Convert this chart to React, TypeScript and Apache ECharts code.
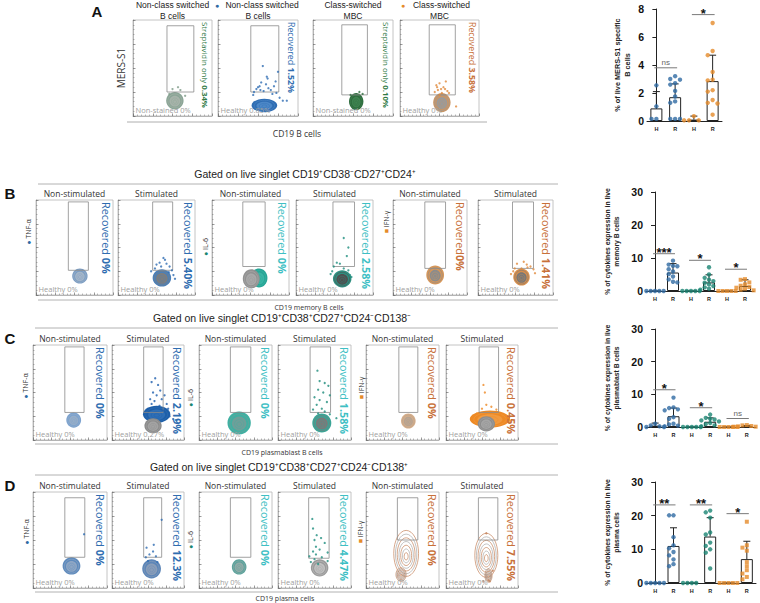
import React, { useEffect, useRef } from "react";
import * as echarts from "echarts";

// ================= BAR CHART DATA =================
const barCatsA = ["H", "R", "H", "R"];
const barMeansA = [0.9, 1.7, 0.1, 2.85];
const barSdTopA = [2.1, 2.65, 0.35, 4.7];
const barDotsA = [
  [2.55, 1.05, 0.15, 0.15],
  [3.2, 3.0, 2.95, 2.7, 2.6, 2.15, 1.75, 1.4, 1.3, 0.15, 0.15, 0.15],
  [0.35, 0.05, 0.05, 0.05],
  [7.0, 5.0, 4.7, 3.5, 2.95, 2.9, 2.2, 2.1, 1.5, 1.3, 1.25, 0.45],
];
const barSigA = [[0, 1, 3.8], [2, 3, 7.6]];
const barSigTextA = ["ns", "*"];
const yTicksA = [0, 8, 2];

const barCats = ["H", "R", "H", "R", "H", "R"];
const yTicksBCD = [0, 30, 10];

const barMeansB = [0, 5.6, 0, 2.6, 0, 1.5];
const barSdTopB = [0, 8.3, 0, 4.9, 0, 3.4];
const barDotsB = [
  [0, 0, 0, 0, 0],
  [9.2, 8.0, 7.6, 7.5, 6.6, 5.9, 5.1, 4.4, 3.5, 2.8, 2.6],
  [0, 0, 0, 0, 0],
  [7.2, 5.0, 4.0, 3.4, 3.0, 2.5, 2.0, 1.5, 1.1, 0.7, 0.4],
  [0, 0, 0, 0, 0],
  [3.6, 3.4, 2.6, 2.0, 1.6, 1.2, 1.0, 0.7, 0.4, 0.2],
];
const barSigB = [[0, 1, 11.3], [2, 3, 9.3], [4, 5, 6.6]];
const barSigTextB = ["***", "*", "*"];

const barMeansC = [0.4, 3.3, 0, 1.6, 0, 0.2];
const barSdTopC = [1.2, 5.8, 0, 2.8, 0, 0.45];
const barDotsC = [
  [1.0, 0.5, 0.2, 0, 0],
  [9.0, 6.0, 5.8, 5.4, 5.1, 3.0, 2.5, 1.0, 0.8, 0.4, 0.2],
  [0, 0, 0, 0, 0],
  [3.8, 2.8, 2.5, 2.3, 2.0, 1.7, 1.2, 0.9, 0.5, 0.2],
  [0, 0, 0, 0, 0],
  [0.6, 0.5, 0.3, 0.2, 0.1, 0.1, 0, 0, 0],
];
const barSigC = [[0, 1, 11.4], [2, 3, 5.9], [4, 5, 2.6]];
const barSigTextC = ["*", "*", "ns"];

const barMeansD = [0, 11.0, 0, 13.8, 0, 7.1];
const barSdTopD = [0, 16.4, 0, 19.4, 0, 12.4];
const barDotsD = [
  [0, 0, 0, 0, 0],
  [20.1, 20.1, 13.6, 11.2, 10.3, 9.2, 8.2, 7.0, 5.6, 5.0],
  [0, 0, 0, 0],
  [21.5, 21.0, 19.4, 15.0, 14.4, 12.0, 11.0, 10.0, 9.0, 4.3],
  [0, 0, 0, 0, 0],
  [18.2, 11.2, 10.5, 9.6, 6.2, 5.0, 3.8, 2.8, 1.8, 1.1],
];
const barSigD = [[0, 1, 23.2], [2, 3, 23.2], [4, 5, 20.6]];
const barSigTextD = ["**", "**", "*"];

// ================= FLOW PLOT DATA (plot units 0-100) =================
// gate: [x1, x2, y1, y2]; blob: [cx, cy, rx, ry]; dots: [x, y]
const flowGatesA = [[43, 77, 25, 94], [41, 76, 25, 94], [36, 68, 22, 95], [37, 70, 22, 95]];
const flowBlobsA = [[[53, 16, 11, 9]], [[58, 11, 16, 7]], [[54, 15, 9, 9]], [[53, 14, 11, 10]]];
const flowDotsA = [
  [[60, 27], [46, 23], [66, 21], [57, 30], [50, 28]],
  [[56, 52], [61, 41], [62, 39], [54, 35], [75, 46], [50, 30], [48, 28], [53, 27], [57, 26], [63, 29], [66, 27], [70, 31], [45, 25], [68, 23], [81, 16], [86, 16], [77, 19], [60, 33], [52, 31], [72, 36], [44, 22], [73, 24]],
  [[62, 23], [47, 22], [58, 25]],
  [[50, 34], [46, 32], [55, 30], [52, 28], [57, 28], [48, 27], [44, 25], [60, 26], [53, 24], [50, 22], [58, 36], [62, 24], [71, 10], [47, 30]],
];
const titlesA = [["Non-class switched", "B cells"], ["Non-class switched", "B cells"], ["Class-switched", "MBC"], ["Class-switched", "MBC"]];
const rightA = [["Streptavidin only ", "0.34%"], ["Recovered ", "1.52%"], ["Streptavidin only ", "0.10%"], ["Recovered ", "3.58%"]];
const bottomA = ["Non-stained 0%", "Healthy 0.85%", "Non-stained 0%", "Healthy 0%"];

const flowGatesB = [[42, 68, 26, 98], [45, 71, 26, 98], [40, 69, 30, 98], [48, 76, 30, 98], [43, 71, 28, 98], [46, 74, 28, 98]];
const flowBlobsB = [
  [[57, 20, 10, 8]],
  [[57, 18, 12, 9]],
  [[61, 18, 11, 10], [51, 17, 11, 10]],
  [[60, 17, 12, 9]],
  [[57, 21, 12, 10]],
  [[58, 19, 11, 9]],
];
const flowDotsB = [
  [],
  [[59, 39], [54, 34], [50, 32], [63, 33], [67, 30], [48, 28], [70, 26], [72, 21], [74, 17], [43, 25], [61, 37], [56, 30], [66, 24]],
  [],
  [[62, 60], [68, 50], [66, 41], [53, 34], [57, 33], [49, 30], [62, 28], [68, 26], [70, 21], [47, 25], [72, 19], [45, 22]],
  [],
  [[52, 33], [61, 35], [65, 32], [70, 30], [58, 28], [49, 28], [74, 27], [47, 25], [76, 23], [44, 22], [66, 29]],
];
const rightPctB = ["0%", "5.40%", "0%", "2.58%", "0%", "1.41%"];
const bottomB = ["Healthy 0%", "Healthy 0%", "Healthy 0%", "Healthy 0%", "Healthy 0%", "Healthy 0%"];

const flowGatesC = [[43, 69, 29, 98], [44, 71, 29, 98], [43, 71, 29, 98], [44, 72, 29, 98], [45, 71, 29, 98], [46, 73, 29, 98]];
const flowBlobsC = [
  [[55, 21, 10, 8]],
  [[62, 27, 19, 9], [57, 15, 12, 8]],
  [[55, 18, 16, 12]],
  [[60, 18, 13, 10]],
  [[58, 20, 10, 8]],
  [[61, 22, 28, 9], [56, 17, 12, 8]],
];
const flowDotsC = [
  [],
  [[60, 65], [55, 61], [64, 58], [67, 52], [57, 50], [62, 47], [69, 43], [73, 47], [53, 43], [55, 38], [76, 38], [78, 33], [50, 33], [80, 25], [85, 22], [89, 21], [48, 27], [66, 36], [59, 41], [71, 31]],
  [],
  [[54, 73], [57, 62], [64, 60], [69, 57], [55, 53], [62, 50], [71, 47], [50, 45], [57, 42], [67, 40], [53, 37], [60, 33], [48, 32], [64, 30], [55, 28], [71, 27], [80, 23]],
  [],
  [[52, 58], [54, 50], [56, 37], [50, 33], [63, 35], [70, 32], [75, 27], [84, 23], [43, 28], [89, 20]],
];
const rightPctC = ["0%", "2.19%", "0%", "1.58%", "0%", "0.45%"];
const bottomC = ["Healthy 0%", "Healthy 0.27%", "Healthy 0%", "Healthy 0%", "Healthy 0%", "Healthy 0%"];

const flowGatesD = [[43, 70, 32, 94], [44, 69, 32, 94], [43, 71, 32, 94], [42, 70, 31, 94], [43, 71, 50, 94], [45, 72, 50, 94]];
const flowBlobsD = [
  [[52, 23, 12, 9]],
  [[55, 20, 13, 10]],
  [[55, 22, 10, 8]],
  [[57, 21, 12, 9]],
  [[55, 36, 17, 24], [48, 14, 7, 7]],
  [[56, 34, 16, 23], [59, 13, 5, 7]],
];
const flowDotsD = [
  [[69, 56]],
  [[69, 71], [48, 42], [57, 38], [52, 35], [61, 33], [47, 32], [58, 45], [63, 27], [50, 28]],
  [],
  [[47, 72], [48, 62], [53, 55], [50, 50], [59, 52], [64, 47], [52, 43], [57, 40], [48, 38], [68, 37], [52, 35], [43, 33], [60, 32], [50, 30], [68, 28], [45, 27], [55, 25]],
  [],
  [[56, 57], [59, 8], [61, 7], [52, 7], [65, 18]],
];
const rightPctD = ["0%", "12.3%", "0%", "4.47%", "0%", "7.55%"];
const bottomD = ["Healthy 0%", "Healthy 0%", "Healthy 0%", "Healthy 0%", "Healthy 0%", "Healthy 0%"];

const stimTitles = ["Non-stimulated", "Stimulated", "Non-stimulated", "Stimulated", "Non-stimulated", "Stimulated"];

// ================= STYLES =================
const FLOW_FONT = "'Open Sans', 'Noto Sans', sans-serif";
const ARIAL = "'Liberation Sans', Arial, sans-serif";
const BLUE = "#2f6db0";
const CYAN = "#3fbfc4";
const ORANGE_T = "#c8713a";
const GREEN = "#2f7a45";
const DOT_BLUE = "#2f6aa3";
const DOT_TEAL = "#1a8573";
const DOT_ORANGE = "#e58b2a";

const blobStylesA = [[["#8aa596", "#a7b3aa"]], [["#2f6db3", "#4d88c8"]], [["#2e6b3d", "#3e8350"]], [["#c99565", "#9a9a9a"]]];
const blobStylesB = [
  [["#7a9cc3", "#a5b6c8"]],
  [["#4a7fb8", "#7d7d7d"]],
  [["#27a596", "#39b5a5"], ["#929292", "#a9a9a9"]],
  [["#2e8f80", "#4f4f4f"]],
  [["#d7975a", "#8c8c8c"]],
  [["#d98f4b", "#777777"]],
];
const blobStylesC = [
  [["#7ba2cf", "#97aec8"]],
  [["#1e5fa8", "#2f6eb5"], ["#8b8b8b", "#a3a3a3"]],
  [["#3fb0a2", "#6f9f99"]],
  [["#3aa596", "#7a7a7a"]],
  [["#d6ad88", "#b5a392"]],
  [["#ee8a25", "#f09a40"], ["#8d8d8d", "#a5a5a5"]],
];
const blobStylesD = [
  [["#5f8bbd", "#8ea6c4"]],
  [["#5d86b8", "#8a9db8"]],
  [["#5aa39c", "#93aba8"]],
  [["#9a9a9a", "#c0c0c0"]],
  [["#c4825a", "#a8a8a8"], ["#c4825a", "#a8a8a8"]],
  [["#c4825a", "#a8a8a8"], ["#c4825a", "#a8a8a8"]],
];
const dotColorsA = ["#7f9c8a", "#2f6db3", "#2e6b3d", "#e08a3c"];
const dotColorsB = ["#2f6db3", "#2f6db3", "#1f9e8f", "#1f8f80", "#d98f4b", "#e08a3c"];
const dotColorsC = ["#2f6db3", "#1f5fae", "#1f9e8f", "#1e8c7c", "#d98f4b", "#ee8a25"];
const dotColorsD = ["#2f6db3", "#2f6db3", "#1f9e8f", "#1f8f80", "#c4825a", "#c4825a"];

function swarm(vals: number[], ymax: number, step: number) {
  const placed: number[][] = [];
  const thr = ymax * 0.04;
  const cands = [0, -1, 1, -2, 2, -3, 3];
  vals.forEach((v) => {
    for (const c of cands) {
      const off = c * step;
      if (!placed.some((p) => Math.abs(p[1] - v) < thr && Math.abs(p[0] - off) < step * 0.9)) {
        placed.push([off, v]);
        break;
      }
    }
  });
  return placed;
}

function buildOption() {
  const option: any = {
    animation: false,
    backgroundColor: "#ffffff",
    grid: [],
    xAxis: [],
    yAxis: [],
    series: [],
    graphic: { elements: [] },
  };
  const G = option.graphic.elements;

  const txt = (x: number, y: number, text: string, o: any = {}) => {
    const st: any = {
      text,
      fontSize: o.fs || 8,
      fontFamily: o.ff || FLOW_FONT,
      fontWeight: o.fw || "normal",
      fill: o.c || "#222",
      align: o.al || "center",
      verticalAlign: o.va || "middle",
      textAlign: o.al || "center",
      textVerticalAlign: o.va || "middle",
    };
    if (o.rich) st.rich = o.rich;
    G.push({ type: "text", x, y, rotation: o.rot || 0, style: st, z: 20, silent: true });
  };
  const hline = (x1: number, x2: number, y: number, c = "#9a9a9a") => {
    G.push({ type: "line", shape: { x1, y1: y, x2, y2: y }, style: { stroke: c, lineWidth: 0.8 }, silent: true, z: 5 });
  };

  const flowAxis = (g: number) => ({
    type: "value",
    gridIndex: g,
    min: 0,
    max: 100,
    interval: 25,
    axisLine: { show: true, onZero: false, lineStyle: { color: "#a8a8a8", width: 0.8 } },
    axisTick: { show: true, inside: true, length: 2.5, lineStyle: { color: "#555", width: 0.6 } },
    minorTick: { show: true, splitNumber: 5, length: 1.5, lineStyle: { color: "#777", width: 0.5 } },
    axisLabel: { show: false },
    splitLine: { show: false },
  });

  const addFlow = (rect: number[], gate: number[], blobs: number[][], styles: string[][], kind: string, dots: number[][], dotColor: string) => {
    const g = option.grid.length;
    option.grid.push({ left: rect[0], top: rect[1], width: rect[2], height: rect[3], show: true, borderColor: "#b5b5b5", borderWidth: 0.8 });
    option.xAxis.push(flowAxis(g));
    option.yAxis.push(flowAxis(g));
    const xi = option.xAxis.length - 1;
    const yi = option.yAxis.length - 1;
    option.series.push({
      type: "custom",
      xAxisIndex: xi,
      yAxisIndex: yi,
      silent: true,
      z: 2,
      data: blobs,
      renderItem: (params: any, api: any) => {
        const c = api.coord([api.value(0), api.value(1)]);
        const s = api.size([api.value(2), api.value(3)]);
        const st = styles[params.dataIndex];
        const rx = s[0];
        const ry = s[1];
        const el = (k: number, style: any) => ({ type: "ellipse", shape: { cx: c[0], cy: c[1] + (1 - k) * ry * 0.15, rx: rx * k, ry: ry * k }, style });
        const children: any[] = [];
        if (kind === "contour") {
          [1, 0.86, 0.72, 0.58, 0.44, 0.3, 0.16].forEach((k, j) => {
            children.push(el(k, { fill: "none", stroke: j % 2 ? st[1] : st[0], lineWidth: 0.7 }));
          });
        } else {
          children.push(el(1, { fill: st[0] }));
          children.push(el(0.8, { fill: "none", stroke: st[1], lineWidth: 0.6 }));
          children.push(el(0.62, { fill: st[1] }));
          children.push(el(0.4, { fill: "none", stroke: st[0], lineWidth: 0.5, opacity: 0.7 }));
          children.push(el(0.2, { fill: "none", stroke: st[0], lineWidth: 0.5, opacity: 0.7 }));
        }
        return { type: "group", children };
      },
    });
    option.series.push({
      type: "custom",
      xAxisIndex: xi,
      yAxisIndex: yi,
      silent: true,
      z: 3,
      data: [gate],
      renderItem: (params: any, api: any) => {
        const a = api.coord([api.value(0), api.value(3)]);
        const b = api.coord([api.value(1), api.value(2)]);
        return { type: "rect", shape: { x: a[0], y: a[1], width: b[0] - a[0], height: b[1] - a[1] }, style: { fill: "none", stroke: "#8a8a8a", lineWidth: 0.8 } };
      },
    });
    if (dots.length) {
      option.series.push({
        type: "scatter",
        xAxisIndex: xi,
        yAxisIndex: yi,
        silent: true,
        z: 4,
        symbolSize: 2.3,
        itemStyle: { color: dotColor },
        data: dots,
      });
    }
  };

  const addBar = (rect: number[], cats: string[], means: number[], tops: number[], dots: number[][], colors: string[], symbols: string[], sigs: number[][], sigTexts: string[], ticks: number[], yName: string, nameGap: number, step: number, nameFs: number) => {
    const g = option.grid.length;
    const n = cats.length;
    option.grid.push({ left: rect[0], top: rect[1], width: rect[2], height: rect[3] });
    option.xAxis.push({
      type: "category",
      gridIndex: g,
      data: cats,
      axisLine: { lineStyle: { color: "#222", width: 1 } },
      axisTick: { show: false },
      axisLabel: { fontSize: 5.5, fontWeight: "bold", color: "#222", margin: 5, fontFamily: ARIAL },
    });
    const xc = option.xAxis.length - 1;
    option.xAxis.push({ type: "value", gridIndex: g, min: -0.5, max: n - 0.5, show: false });
    const xv = option.xAxis.length - 1;
    option.yAxis.push({
      type: "value",
      gridIndex: g,
      min: ticks[0],
      max: ticks[1],
      interval: ticks[2],
      axisLine: { show: true, lineStyle: { color: "#222", width: 1 } },
      axisTick: { show: true, length: 4, lineStyle: { color: "#222", width: 1 } },
      axisLabel: { fontSize: 10.5, fontWeight: "bold", color: "#111", margin: 3, fontFamily: ARIAL },
      splitLine: { show: false },
      name: yName,
      nameLocation: "middle",
      nameGap,
      nameRotate: 90,
      nameTextStyle: { fontSize: nameFs, fontWeight: "bold", color: "#222", lineHeight: nameFs + 2.5, fontFamily: ARIAL },
    });
    const yi = option.yAxis.length - 1;
    option.series.push({
      type: "bar",
      xAxisIndex: xc,
      yAxisIndex: yi,
      data: means,
      barWidth: 12,
      silent: true,
      z: 2,
      itemStyle: { color: "#ffffff", borderColor: "#222", borderWidth: 1 },
    });
    option.series.push({
      type: "custom",
      xAxisIndex: xv,
      yAxisIndex: yi,
      silent: true,
      z: 3,
      data: means.map((m, i) => [i, m, tops[i]]),
      renderItem: (params: any, api: any) => {
        const x = api.value(0);
        const m = api.value(1);
        const t = api.value(2);
        if (!(t > m)) return { type: "group", children: [] };
        const p0 = api.coord([x, m]);
        const p1 = api.coord([x, t]);
        return {
          type: "group",
          children: [
            { type: "line", shape: { x1: p0[0], y1: p0[1], x2: p1[0], y2: p1[1] }, style: { stroke: "#222", lineWidth: 1 } },
            { type: "line", shape: { x1: p1[0] - 3.5, y1: p1[1], x2: p1[0] + 3.5, y2: p1[1] }, style: { stroke: "#222", lineWidth: 1 } },
          ],
        };
      },
    });
    dots.forEach((vals, i) => {
      const pts = swarm(vals, ticks[1], step).map((p) => [i + p[0], p[1]]);
      option.series.push({
        type: "scatter",
        xAxisIndex: xv,
        yAxisIndex: yi,
        silent: true,
        z: 4,
        symbol: symbols[i],
        symbolSize: symbols[i] === "rect" ? 4 : 4.4,
        itemStyle: { color: colors[i] },
        data: pts,
      });
    });
    option.series.push({
      type: "custom",
      xAxisIndex: xv,
      yAxisIndex: yi,
      silent: true,
      z: 5,
      data: sigs,
      renderItem: (params: any, api: any) => {
        const a = api.coord([api.value(0), api.value(2)]);
        const b = api.coord([api.value(1), api.value(2)]);
        const t = sigTexts[params.dataIndex];
        const star = t !== "ns";
        return {
          type: "group",
          children: [
            { type: "line", shape: { x1: a[0] - 2, y1: a[1], x2: b[0] + 2, y2: b[1] }, style: { stroke: "#7a7a7a", lineWidth: 1 } },
            {
              type: "text",
              x: (a[0] + b[0]) / 2,
              y: a[1] + (star ? 5 : -1),
              style: {
                text: t,
                fill: star ? "#111" : "#666",
                fontSize: star ? 13 : 8,
                fontWeight: star ? "bold" : "normal",
                fontFamily: ARIAL,
                align: "center",
                verticalAlign: "bottom",
                textAlign: "center",
                textVerticalAlign: "bottom",
              },
            },
          ],
        };
      },
    });
  };

  const rightLabel = (rect: number[], a: string, b: string, color: string, fs: number) => {
    txt(rect[0] + rect[2] - 7, rect[1] + 2, `{a|${a}}{b|${b}}`, {
      rot: -Math.PI / 2,
      al: "left",
      va: "middle",
      fs,
      c: color,
      rich: {
        a: { fontSize: fs, fontFamily: FLOW_FONT, fill: color, color },
        b: { fontSize: fs, fontFamily: FLOW_FONT, fontWeight: "bold", fill: color, color },
      },
    });
  };
  const bottomLabel = (rect: number[], t: string) => {
    txt(rect[0] + 2.5, rect[1] + rect[3] - 6, t, { al: "left", fs: 7.5, c: "#a0a0a0" });
  };
  const markerLabel = (x: number, y: number, mark: string, mc: string, t: string) => {
    txt(x, y, `{m|${mark}} {t|${t}}`, {
      rot: Math.PI / 2,
      fs: 7,
      rich: {
        m: { fontSize: 7, fill: mc, color: mc, fontFamily: FLOW_FONT },
        t: { fontSize: 7, fill: "#333", color: "#333", fontFamily: FLOW_FONT },
      },
    });
  };

  // ---------------- Panel A ----------------
  const rectsA = [[133, 20, 79, 96], [218, 20, 80, 96], [313, 20, 80, 96], [400, 20, 79, 96]];
  rectsA.forEach((r, i) => {
    addFlow(r, flowGatesA[i], flowBlobsA[i], blobStylesA[i], "dense", flowDotsA[i], dotColorsA[i]);
    const cx = r[0] + r[2] / 2 + (i === 1 ? 4 : i === 3 ? 2 : 0);
    txt(cx, 5, titlesA[i][0], { ff: ARIAL, fs: 8.5 });
    txt(r[0] + r[2] / 2, 15.5, titlesA[i][1], { ff: ARIAL, fs: 8.5 });
    const col = i === 1 ? BLUE : i === 3 ? ORANGE_T : GREEN;
    rightLabel(r, rightA[i][0], rightA[i][1], col, i % 2 ? 8.8 : 7.8);
    bottomLabel(r, bottomA[i]);
  });
  txt(217, 5.5, "●", { fs: 7, c: DOT_BLUE });
  txt(403, 5.5, "●", { fs: 7, c: DOT_ORANGE });
  txt(97, 11, "A", { ff: ARIAL, fs: 15, fw: "bold", c: "#111" });
  txt(121, 68, "MERS-S1", { rot: Math.PI / 2, fs: 10, c: "#333" });
  hline(127, 487, 122);
  txt(297, 133, "CD19 B cells", { fs: 8.5, c: "#333" });

  addBar([647, 9, 75, 112], barCatsA, barMeansA, barSdTopA, barDotsA, [DOT_BLUE, DOT_BLUE, DOT_ORANGE, DOT_ORANGE], ["circle", "circle", "circle", "circle"], barSigA, barSigTextA, yTicksA, "% of live MERS-S1 specific\nB cells", 15, 0.26, 7.3);

  // ---------------- Panels B, C, D ----------------
  const rowColors = [BLUE, BLUE, CYAN, CYAN, ORANGE_T, ORANGE_T];
  const rows = [
    {
      letter: "B",
      title: "Gated on live singlet CD19⁺CD38⁻CD27⁺CD24⁺",
      titleX: 305, titleY: 174, lineY: 184, lineX: [38, 558],
      rects: [[36, 200, 77, 95], [118, 200, 77, 95], [212, 200, 77, 95], [296, 200, 77, 95], [393, 200, 74, 95], [478, 200, 75, 95]],
      gates: flowGatesB, blobs: flowBlobsB, styles: blobStylesB, dots: flowDotsB, dotColors: dotColorsB,
      pct: rightPctB, bottom: bottomB, kinds: ["dense", "dense", "dense", "dense", "dense", "dense"],
      axisLabel: "CD19 memory B cells", axisX: 309, lineGap: 5, labelGap: 12,
      markers: [[28, 232], [205, 247], [386, 222]],
      bar: [646, 192, 108, 99], means: barMeansB, tops: barSdTopB, bdots: barDotsB, sig: barSigB, sigT: barSigTextB,
      yName: "% of cytokines expression in live\nmemory B cells",
    },
    {
      letter: "C",
      title: "Gated on live singlet CD19⁺CD38⁺CD27⁺CD24⁻CD138⁻",
      titleX: 282, titleY: 318, lineY: 328, lineX: [35, 558],
      rects: [[33, 345, 74, 95], [112, 345, 72, 95], [199, 345, 73, 95], [278, 345, 73, 95], [366, 345, 73, 95], [446, 345, 72, 95]],
      gates: flowGatesC, blobs: flowBlobsC, styles: blobStylesC, dots: flowDotsC, dotColors: dotColorsC,
      pct: rightPctC, bottom: bottomC, kinds: ["dense", "dense", "dense", "dense", "dense", "dense"],
      axisLabel: "CD19 plasmablast B cells", axisX: 282, lineGap: 4, labelGap: 12,
      markers: [[25, 386], [190, 398], [361, 388]],
      bar: [646, 329, 110, 98], means: barMeansC, tops: barSdTopC, bdots: barDotsC, sig: barSigC, sigT: barSigTextC,
      yName: "% of cytokines expression in live\nplasmablast B cells",
    },
    {
      letter: "D",
      title: "Gated on live singlet CD19⁺CD38⁺CD27⁺CD24⁻CD138⁺",
      titleX: 279, titleY: 467, lineY: 475, lineX: [35, 558],
      rects: [[33, 492, 74, 96], [112, 492, 72, 96], [199, 492, 73, 96], [278, 492, 73, 96], [366, 492, 73, 96], [446, 492, 72, 96]],
      gates: flowGatesD, blobs: flowBlobsD, styles: blobStylesD, dots: flowDotsD, dotColors: dotColorsD,
      pct: rightPctD, bottom: bottomD, kinds: ["dense", "dense", "dense", "dense", "contour", "contour"],
      axisLabel: "CD19 plasma cells", axisX: 285, lineGap: 4, labelGap: 10,
      markers: [[26, 532], [190, 540], [360, 532]],
      bar: [646, 482, 110, 101], means: barMeansD, tops: barSdTopD, bdots: barDotsD, sig: barSigD, sigT: barSigTextD,
      yName: "% of cytokines expression in live\nplasma cells",
    },
  ];

  rows.forEach((row: any) => {
    txt(row.titleX, row.titleY, row.title, { ff: ARIAL, fs: 10.5, c: "#222" });
    hline(row.lineX[0], row.lineX[1], row.lineY, "#a0a0a0");
    txt(10, row.rects[0][1] - 7, row.letter, { ff: ARIAL, fs: 15, fw: "bold", c: "#111" });
    row.rects.forEach((r: number[], i: number) => {
      addFlow(r, row.gates[i], row.blobs[i], row.styles[i], row.kinds[i], row.dots[i], row.dotColors[i]);
      txt(r[0] + r[2] / 2, r[1] - 7, stimTitles[i], { fs: 8.5, c: "#333" });
      const lead = row.letter === "B" && i === 4 ? "Recovered" : "Recovered ";
      rightLabel(r, lead, row.pct[i], rowColors[i], 10.8);
      bottomLabel(r, row.bottom[i]);
    });
    const bottomY = row.rects[0][1] + row.rects[0][3];
    hline(row.lineX[0], row.lineX[1], bottomY + row.lineGap, "#a0a0a0");
    txt(row.axisX, bottomY + row.labelGap, row.axisLabel, { fs: 7, c: "#333" });
    markerLabel(row.markers[0][0], row.markers[0][1], "●", DOT_BLUE, "TNF-α");
    markerLabel(row.markers[1][0], row.markers[1][1], "●", DOT_TEAL, "IL-6");
    markerLabel(row.markers[2][0], row.markers[2][1], "■", DOT_ORANGE, "IFN-γ");
    addBar(row.bar, barCats, row.means, row.tops, row.bdots, [DOT_BLUE, DOT_BLUE, DOT_TEAL, DOT_TEAL, DOT_ORANGE, DOT_ORANGE], ["circle", "circle", "circle", "circle", "rect", "rect"], row.sig, row.sigT, yTicksBCD, row.yName, 25, 0.24, 6.8);
  });

  return option;
}

export default function App() {
  const ref = useRef<HTMLDivElement>(null);
  useEffect(() => {
    document.body.style.margin = "0";
    const chart = echarts.init(ref.current as HTMLDivElement, null, { renderer: "svg" });
    chart.setOption(buildOption());
    return () => chart.dispose();
  }, []);
  return <div ref={ref} style={{ width: 760, height: 603, background: "#fff" }} />;
}
